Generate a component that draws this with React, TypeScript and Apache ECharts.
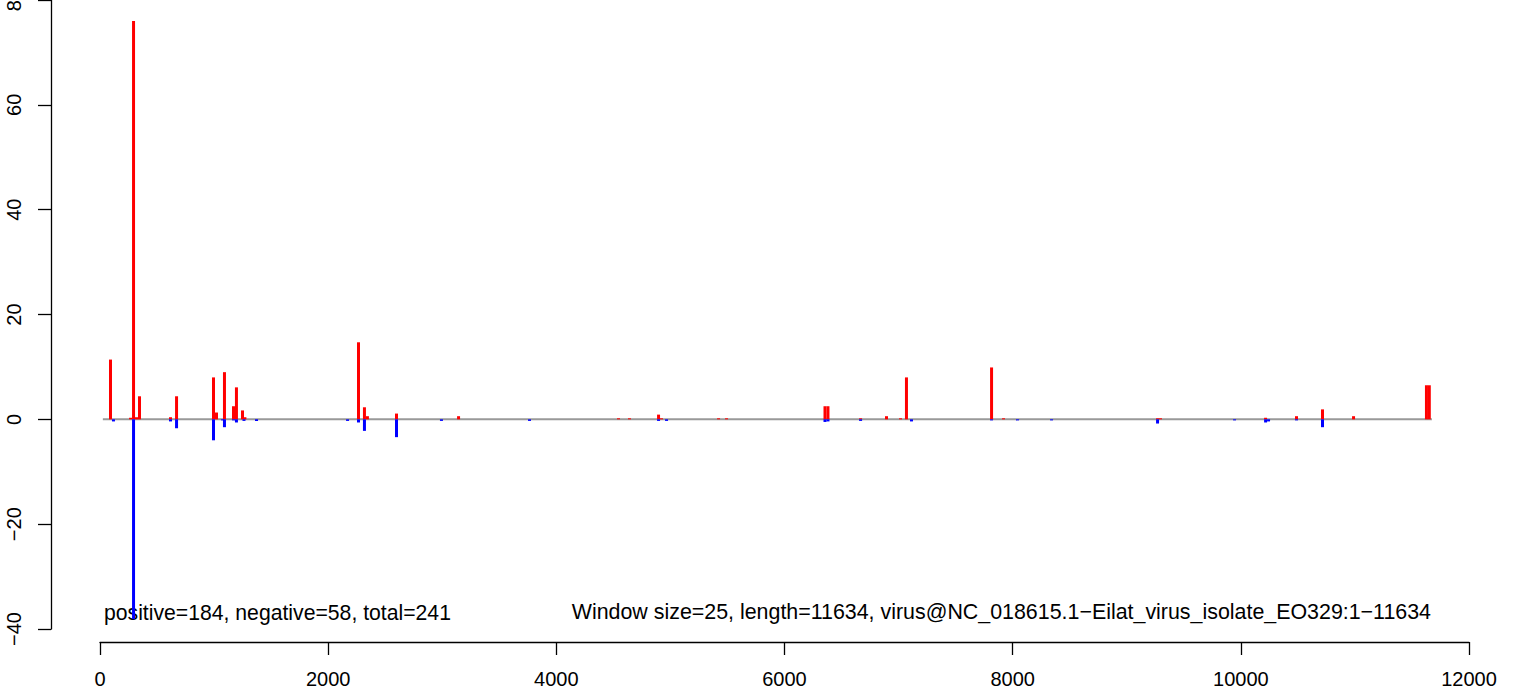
import React, { useEffect, useRef } from "react";
import * as echarts from "echarts";

// Window positions (nt) and scores
const positiveX = [92, 268, 294, 320, 346, 618, 671, 995, 1021, 1091, 1170, 1196, 1249, 1270, 2266, 2318, 2344, 2599, 3143, 4545, 4641, 4896, 4922, 5422, 5492, 6355, 6381, 6667, 6894, 7017, 7069, 7815, 7920, 9270, 9296, 10217, 10488, 10716, 10988, 11627, 11652];
const positiveY = [11.4, 0.3, 76.0, 0.4, 4.4, 0.4, 4.4, 8.0, 1.3, 9.0, 2.5, 6.1, 1.7, 0.4, 14.7, 2.3, 0.6, 1.1, 0.6, 0.2, 0.2, 0.9, 0.2, 0.2, 0.2, 2.5, 2.5, 0.2, 0.6, 0.2, 8.0, 9.9, 0.2, 0.2, 0.2, 0.3, 0.6, 1.9, 0.6, 6.5, 6.5];

const negativeX = [118, 294, 618, 671, 995, 1074, 1091, 1170, 1196, 1262, 1372, 2170, 2266, 2318, 2599, 2993, 3765, 4896, 4966, 6355, 6381, 6667, 7113, 7815, 8043, 8341, 9270, 9945, 10217, 10243, 10488, 10716];
const negativeY = [-0.4, -38.1, -0.4, -1.7, -4.0, -0.2, -1.5, -0.2, -0.6, -0.3, -0.3, -0.3, -0.6, -2.2, -3.4, -0.3, -0.3, -0.3, -0.3, -0.5, -0.4, -0.3, -0.4, -0.2, -0.2, -0.2, -0.8, -0.2, -0.6, -0.4, -0.2, -1.5];

const baselineX = [25, 11675];
const baselineY = [0, 0];

const leftNote = "positive=184, negative=58, total=241";
const rightNote = "Window size=25, length=11634, virus@NC_018615.1\u2212Eilat_virus_isolate_EO329:1\u221211634";

const FONT = '"Liberation Sans", Arial, Helvetica, sans-serif';

export default function App() {
  const ref = useRef<HTMLDivElement>(null);
  useEffect(() => {
    if (!ref.current) return;
    const chart = echarts.init(ref.current, null, { renderer: "svg" });
    const minus = (v: number) => String(v).replace("-", "\u2212");
    chart.setOption({
      animation: false,
      backgroundColor: "#ffffff",
      textStyle: { fontFamily: FONT },
      grid: {
        left: 100,
        top: 0,
        width: 1369,
        height: 629,
        containLabel: false,
        outerBoundsMode: "none",
      },
      xAxis: {
        type: "value",
        min: 0,
        max: 12000,
        interval: 2000,
        offset: 13,
        splitLine: { show: false },
        axisLine: { show: true, onZero: false, lineStyle: { color: "#000", width: 1.3 } },
        axisTick: { show: true, length: 13, lineStyle: { color: "#000", width: 1.3 } },
        axisLabel: { color: "#000", fontSize: 20, fontFamily: FONT, margin: 27, formatter: (v: number) => String(v) },
      },
      yAxis: {
        type: "value",
        min: -40,
        max: 80,
        interval: 20,
        offset: 49,
        splitLine: { show: false },
        axisLine: { show: true, onZero: false, lineStyle: { color: "#000", width: 1.3 } },
        axisTick: { show: true, length: 13, lineStyle: { color: "#000", width: 1.3 } },
        axisLabel: {
          color: "#000",
          fontSize: 20,
          fontFamily: FONT,
          rotate: 90,
          margin: 27,
          formatter: (v: number) => minus(v),
        },
      },
      series: [
        {
          type: "bar",
          name: "positive",
          data: positiveX.map((x, i) => [x, positiveY[i]]),
          barWidth: 3,
          barGap: "-100%",
          itemStyle: { color: "#ff0000" },
        },
        {
          type: "bar",
          name: "negative",
          data: negativeX.map((x, i) => [x, negativeY[i]]),
          barWidth: 3,
          barGap: "-100%",
          itemStyle: { color: "#0000ff" },
        },
        {
          type: "line",
          name: "baseline",
          data: baselineX.map((x, i) => [x, baselineY[i]]),
          symbol: "none",
          lineStyle: { color: "#999999", width: 2 },
          z: 1,
        },
      ],
      graphic: [
        {
          type: "text",
          x: 104,
          y: 612,
          style: {
            text: leftNote,
            fontSize: 21.2,
            fontFamily: FONT,
            fill: "#000",
            align: "left",
            verticalAlign: "middle",
          },
        },
        {
          type: "text",
          x: 1431,
          y: 612,
          style: {
            text: rightNote,
            fontSize: 21.4,
            fontFamily: FONT,
            fill: "#000",
            align: "right",
            verticalAlign: "middle",
          },
        },
      ],
    });
    return () => chart.dispose();
  }, []);
  return (
    <div
      ref={ref}
      style={{ position: "fixed", left: 0, top: 0, width: 1516, height: 693 }}
    />
  );
}
